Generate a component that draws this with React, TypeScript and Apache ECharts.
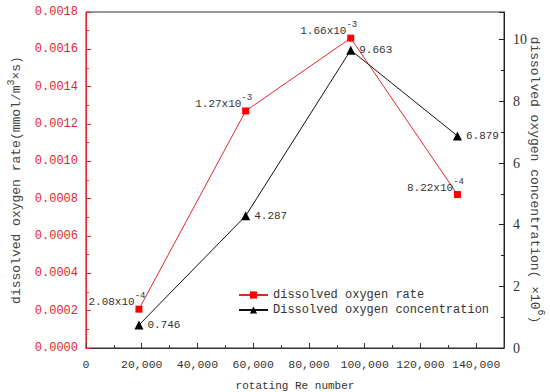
import React, { useEffect, useRef } from 'react';
import * as echarts from 'echarts';

const reNumbers = [19000, 57300, 95000, 133300];
const rateValues = [0.000208, 0.00127, 0.00166, 0.000822];
const rateMantissas = ['2.08', '1.27', '1.66', '8.22'];
const rateExponents = ['-4', '-3', '-3', '-4'];
const concValues = [0.746, 4.287, 9.663, 6.879];
const concLabels = ['0.746', '4.287', '9.663', '6.879'];
const seriesNames = ['dissolved oxygen rate', 'Dissolved oxygen concentration'];
const xTitle = 'rotating Re number';
const leftTitle = '{t|dissolved oxygen rate(mmol/m}{s|3}{t|×s)}';
const rightTitle = '{t|dissolved oxygen concentration( ×10}{s|6}{t|)}';

const FONT = '"Liberation Mono", monospace';
const RED = '#e3262d';
const TEXT = '#333';

export default function App() {
  const ref = useRef<HTMLDivElement>(null);
  useEffect(() => {
    if (!ref.current) return;
    const chart = echarts.init(ref.current, null, { renderer: 'svg' });
    const rateData = reNumbers.map((x, i) => [x, rateValues[i]]);
    const concData = reNumbers.map((x, i) => [x, concValues[i]]);
    const titleRich = {
      t: { fontFamily: FONT, fontSize: 13, color: '#444', lineHeight: 17, verticalAlign: 'bottom' },
      s: { fontFamily: FONT, fontSize: 10, color: '#444', verticalAlign: 'top' },
    };
    chart.setOption({
      animation: false,
      backgroundColor: '#fff',
      textStyle: { fontFamily: FONT },
      grid: {
        left: 86, right: 46, top: 12, bottom: 44, show: true, borderColor: '#333', borderWidth: 1,
        backgroundColor: 'transparent', containLabel: false, outerBoundsMode: 'none',
      },
      legend: {
        left: 233, top: 284, orient: 'vertical', itemGap: 3, itemWidth: 29, itemHeight: 9,
        textStyle: { fontFamily: FONT, fontSize: 12, color: TEXT },
        data: seriesNames,
      },
      xAxis: {
        type: 'value', min: 0, max: 150000, interval: 20000,
        name: xTitle, nameLocation: 'middle', nameGap: 32, nameMoveOverlap: false,
        nameTextStyle: { fontFamily: FONT, fontSize: 11, color: TEXT },
        axisLine: { lineStyle: { color: '#333', width: 1 } },
        axisTick: { inside: true, length: 5, lineStyle: { color: '#333' } },
        minorTick: { show: true, splitNumber: 2, length: 3, lineStyle: { color: '#333' } },
        splitLine: { show: false },
        axisLabel: {
          margin: 10, fontFamily: FONT, fontSize: 11.5, color: TEXT, showMaxLabel: false,
          formatter: (v: number) => v === 0 ? '0' : v.toLocaleString('en-US'),
        },
      },
      yAxis: [
        {
          type: 'value', min: 0, max: 0.0018, interval: 0.0002, position: 'left',
          name: leftTitle, nameLocation: 'middle', nameGap: 63, nameRotate: 90, nameMoveOverlap: false,
          nameTextStyle: { rich: titleRich },
          axisLine: { show: true, lineStyle: { color: RED, width: 1 } },
          axisTick: { inside: true, length: 5, lineStyle: { color: RED } },
          minorTick: { show: true, splitNumber: 2, length: 3, lineStyle: { color: RED } },
          splitLine: { show: false },
          axisLabel: { margin: 8, fontFamily: FONT, fontSize: 12, color: RED, formatter: (v: number) => v.toFixed(4) },
        },
        {
          type: 'value', min: 0, max: 10.9, interval: 2, position: 'right',
          name: rightTitle, nameLocation: 'middle', nameGap: 24, nameRotate: -90, nameMoveOverlap: false,
          nameTextStyle: { rich: titleRich },
          axisLine: { show: true, lineStyle: { color: '#222', width: 1 } },
          axisTick: { inside: true, length: 5, lineStyle: { color: '#222' } },
          minorTick: { show: true, splitNumber: 2, length: 3, lineStyle: { color: '#222' } },
          splitLine: { show: false },
          axisLabel: { margin: 9, fontFamily: '"Liberation Serif", serif', fontSize: 14, color: TEXT, showMaxLabel: false },
        },
      ],
      series: [
        {
          name: seriesNames[0], type: 'line', yAxisIndex: 0, data: rateData,
          symbol: 'rect', symbolSize: 7,
          lineStyle: { color: RED, width: 1 },
          itemStyle: { color: '#ff0000' },
          label: {
            show: true, position: 'top', offset: [-22, 7],
            formatter: (p: any) => `{m|${rateMantissas[p.dataIndex]}x10}{e|${rateExponents[p.dataIndex]}}`,
            rich: {
              m: { fontFamily: FONT, fontSize: 11, color: TEXT, lineHeight: 16, verticalAlign: 'bottom' },
              e: { fontFamily: FONT, fontSize: 9, color: TEXT, verticalAlign: 'top' },
            },
          },
        },
        {
          name: seriesNames[1], type: 'line', yAxisIndex: 1, data: concData,
          symbol: 'triangle', symbolSize: 9,
          lineStyle: { color: '#111', width: 1 },
          itemStyle: { color: '#000' },
          label: {
            show: true, position: 'right', distance: 4, fontFamily: FONT, fontSize: 11, color: TEXT,
            formatter: (p: any) => concLabels[p.dataIndex],
          },
        },
      ],
    });
    return () => chart.dispose();
  }, []);
  return <div ref={ref} style={{ position: 'fixed', left: 0, top: 0, width: 550, height: 392 }} />;
}
